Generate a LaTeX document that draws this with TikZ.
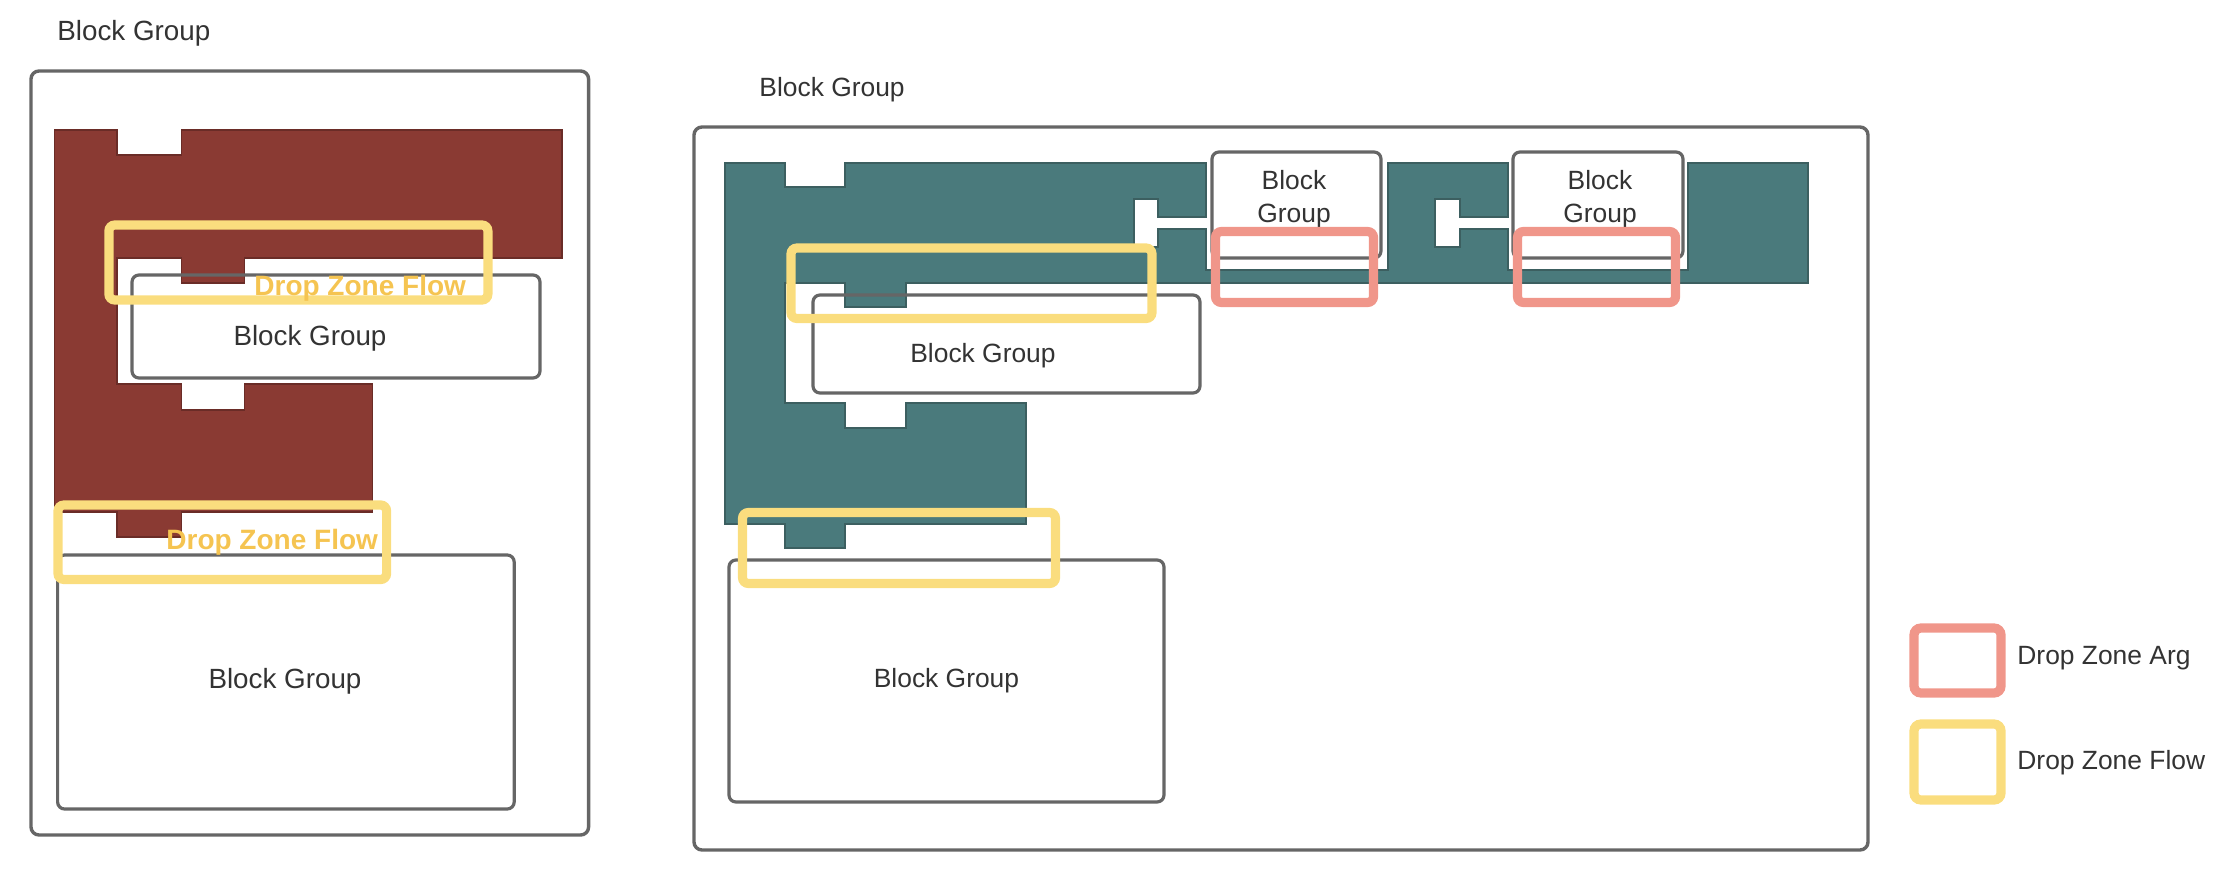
\documentclass[tikz,border=0pt]{standalone}
\usepackage{fontspec}
\setmainfont{Liberation Sans}
\definecolor{redfill}{HTML}{8A3A33}
\definecolor{redline}{HTML}{6A2C27}
\definecolor{tealfill}{HTML}{4A7A7C}
\definecolor{tealline}{HTML}{3C5F60}
\definecolor{dzflow}{HTML}{FADD7E}
\definecolor{dzarg}{HTML}{F0968A}
\definecolor{dztext}{HTML}{F5C451}
\definecolor{boxline}{HTML}{666666}
\definecolor{txt}{HTML}{333333}
\tikzset{
  grpbox/.style={draw=boxline, line width=1.6pt, rounded corners=3.5pt},
  outerbox/.style={draw=boxline, line width=1.7pt, rounded corners=4pt},
  flowzone/.style={draw=dzflow, line width=4.6pt, rounded corners=3pt},
  argzone/.style={draw=dzarg, line width=4.6pt, rounded corners=3pt},
  lbl/.style={inner sep=0pt, text=txt, font=\fontsize{13.2}{16.8}\selectfont},
  lblL/.style={inner sep=0pt, text=txt, font=\fontsize{13.9}{17}\selectfont},
  dztxt/.style={inner sep=0pt, text=dztext, font=\fontsize{14}{17}\selectfont\bfseries},
  redblock/.style={fill=redfill, draw=redline, line width=0.7pt},
  tealblock/.style={fill=tealfill, draw=tealline, line width=0.7pt}
}
\begin{document}
\begin{tikzpicture}[x=0.5pt,y=-0.5pt]
\useasboundingbox (0,0) rectangle (2240,878);

% ---------- left diagram ----------
\node[lblL, anchor=base west] (tl) at (57,40) {Block Group};
\draw[outerbox] (31,71) rectangle (588.6,835);
\draw[redblock] (54.6,130) -- (117.1,130) -- (117.1,155) -- (181.6,155) -- (181.6,130)
  -- (561.8,130) -- (561.8,258) -- (244.2,258) -- (244.2,283) -- (181.6,283) -- (181.6,258)
  -- (117.1,258) -- (117.1,384) -- (181.6,384) -- (181.6,410) -- (244.2,410) -- (244.2,384)
  -- (372.2,384) -- (372.2,512) -- (181.6,512) -- (181.6,537) -- (117.1,537) -- (117.1,512)
  -- (54.6,512) -- cycle;
\draw[grpbox] (132,275) rectangle (540,378);
\node[lblL, anchor=base] (l1) at (310,345) {Block Group};
\draw[grpbox] (57.6,555) rectangle (514.2,809);
\node[lblL, anchor=base] (l2) at (285,688) {Block Group};
\draw[flowzone] (108.9,225) rectangle (487.9,300);
\draw[flowzone] (58,505) rectangle (386.6,579.5);
\node[dztxt, anchor=base west] (f1) at (254,295) {Drop Zone Flow};
\node[dztxt, anchor=base west] (f2) at (166,549) {Drop Zone Flow};

% ---------- right diagram ----------
\node[lbl, anchor=base west] (tr) at (759,96.7) {Block Group};
\draw[outerbox] (694,127) rectangle (1868,850);
\draw[tealblock] (725,163) -- (785,163) -- (785,187) -- (845,187) -- (845,163)
  -- (1206,163) -- (1206,217) -- (1158,217) -- (1158,199) -- (1134,199)
  -- (1134,247) -- (1158,247) -- (1158,229) -- (1206,229) -- (1206,270)
  -- (1388,270) -- (1388,163)
  -- (1508,163) -- (1508,217) -- (1460,217) -- (1460,199) -- (1435,199)
  -- (1435,247) -- (1460,247) -- (1460,229) -- (1508,229) -- (1508,270)
  -- (1688,270) -- (1688,163)
  -- (1808,163) -- (1808,283) -- (906,283) -- (906,307) -- (845,307) -- (845,283)
  -- (785,283) -- (785,403) -- (845,403) -- (845,428) -- (906,428) -- (906,403)
  -- (1026,403) -- (1026,524) -- (845,524) -- (845,548) -- (785,548) -- (785,524)
  -- (725,524) -- cycle;
\draw[grpbox] (1212,152) rectangle (1381,258);
\node[lbl, align=center] (s1) at (1294,199) {Block\\Group};
\draw[grpbox] (1513,152) rectangle (1683,258);
\node[lbl, align=center] (s2) at (1600,199) {Block\\Group};
\draw[grpbox] (813,295) rectangle (1200,393);
\node[lbl, anchor=base] (r1) at (983,362) {Block Group};
\draw[grpbox] (729,560) rectangle (1164,802);
\node[lbl, anchor=base] (r2) at (946.5,687) {Block Group};
\draw[argzone] (1215.5,231.5) rectangle (1373.5,302.5);
\draw[argzone] (1517.5,231.5) rectangle (1675.5,302.5);
\draw[flowzone] (791,248) rectangle (1152,318.5);
\draw[flowzone] (742.5,512.5) rectangle (1055.5,583.5);

% ---------- legend ----------
\draw[argzone, rounded corners=3.5pt] (1914,628) rectangle (2001,693);
\node[lbl, anchor=base west] (la) at (2017,664) {Drop Zone Arg};
\draw[flowzone, rounded corners=3.5pt] (1914,724) rectangle (2001,800);
\node[lbl, anchor=base west] (lf) at (2017,769) {Drop Zone Flow};
\end{tikzpicture}
\end{document}
